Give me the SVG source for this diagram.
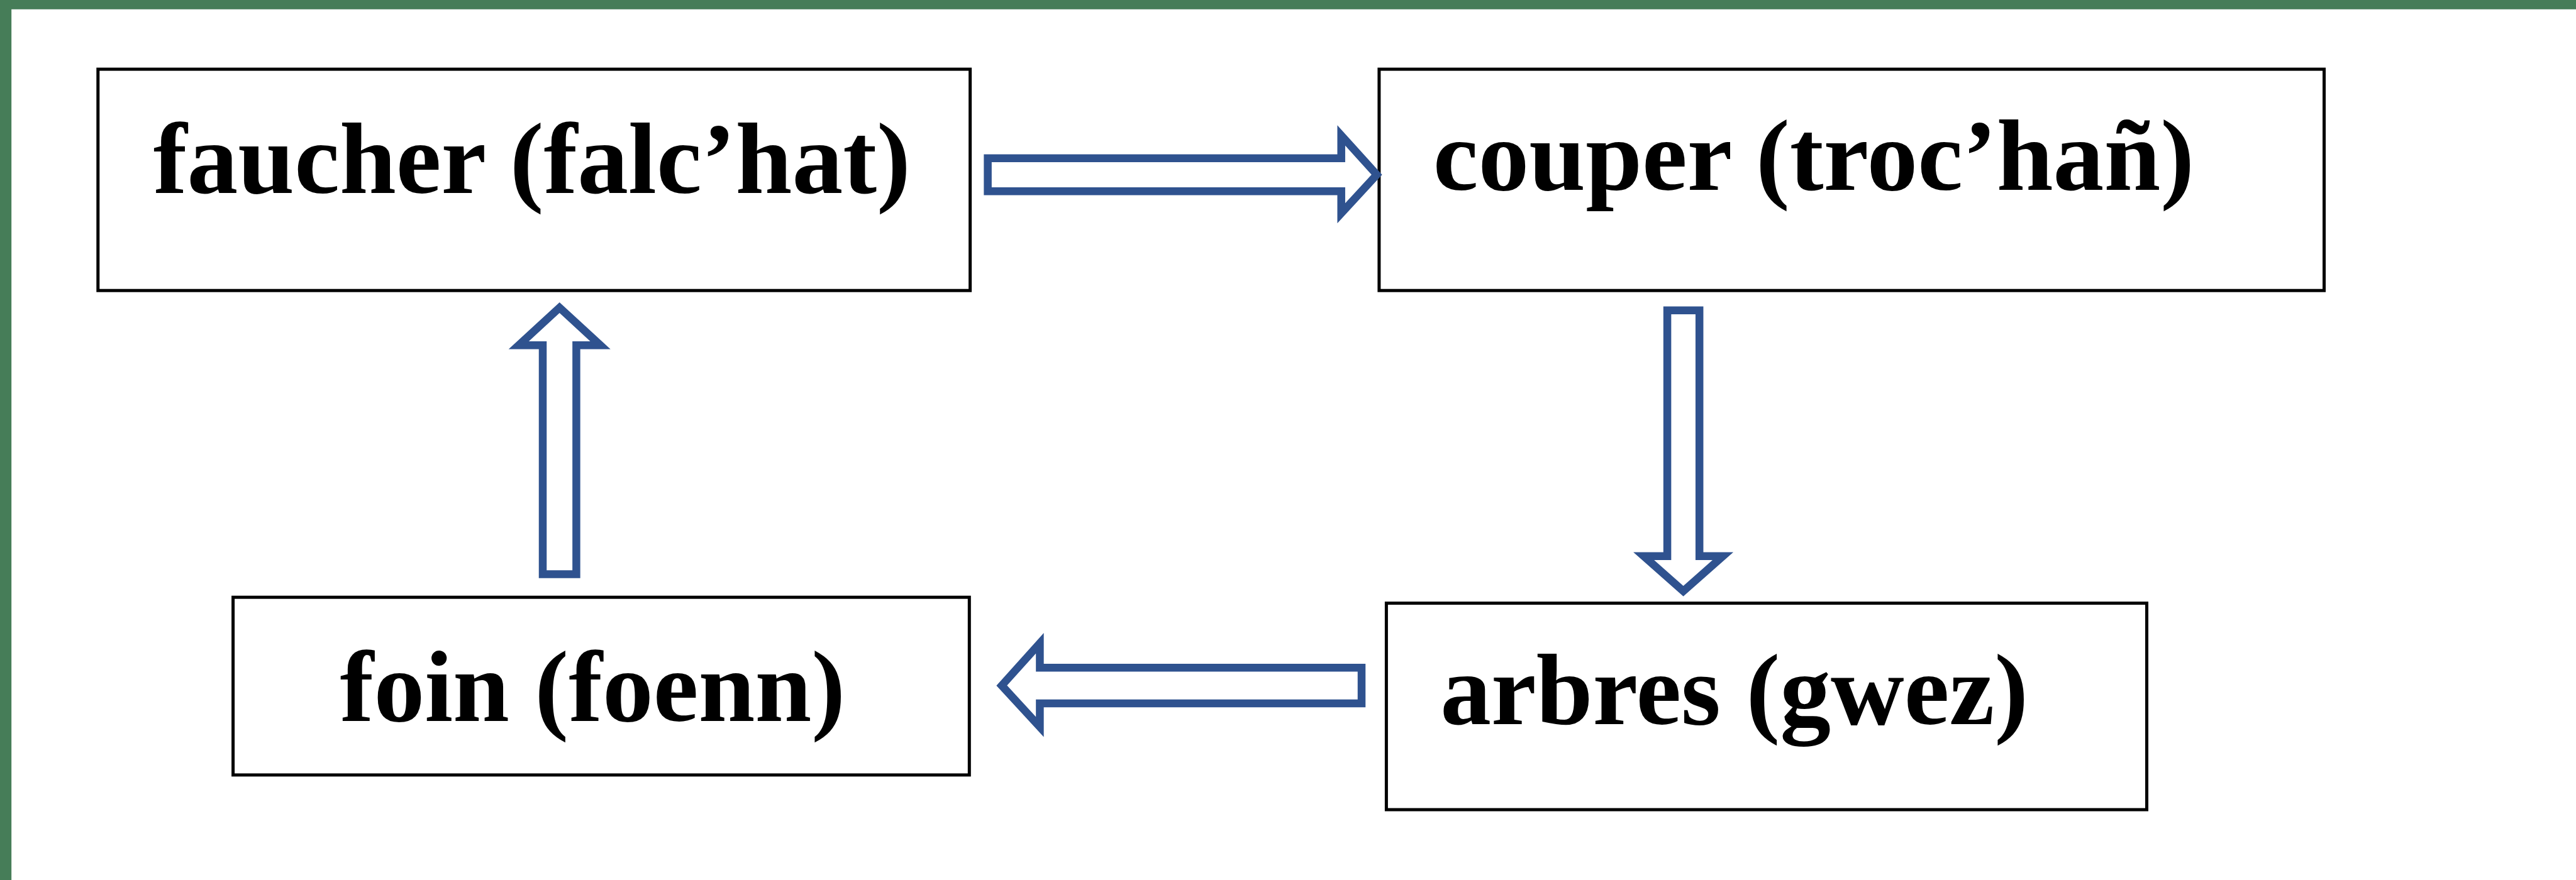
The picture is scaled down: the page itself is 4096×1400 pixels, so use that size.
<svg xmlns="http://www.w3.org/2000/svg" width="4096" height="1400" viewBox="0 0 4096 1400">
  <style>
    .box { fill: #ffffff; stroke: #000000; stroke-width: 5; }
    .lbl { font-family: "Liberation Serif", "Times New Roman", serif; font-weight: bold; font-size: 161.6px; fill: #000000; }
    .arrow { fill: #ffffff; stroke: #2F528F; stroke-width: 12.5; stroke-linejoin: miter; stroke-miterlimit: 10; }
  </style>
  <rect x="0" y="0" width="4096" height="1400" fill="#ffffff"/>
  <rect x="0" y="0" width="4096" height="14.8" fill="#467D58"/>
  <rect x="0" y="0" width="18.2" height="1400" fill="#467D58"/>

  <g id="node-faucher">
    <rect class="box" x="155.8" y="110.1" width="1386.8" height="352.1"/>
    <text class="lbl" x="243.7" y="307">faucher (falc’hat)</text>
  </g>
  <g id="node-couper">
    <rect class="box" x="2192.9" y="110.1" width="1502.6" height="352.1"/>
    <text class="lbl" x="2278.8" y="302.3">couper (troc’hañ)</text>
  </g>
  <g id="node-foin">
    <rect class="box" x="370.6" y="950.2" width="1170.7" height="282.7"/>
    <text class="lbl" x="540.6" y="1147.1">foin (foenn)</text>
  </g>
  <g id="node-arbres">
    <rect class="box" x="2204.4" y="959.6" width="1209.1" height="328.5"/>
    <text class="lbl" x="2290.2" y="1151.9">arbres (gwez)</text>
  </g>

  <g id="connectors">
    <path class="arrow" d="M1570.6,251.8 L2132.7,251.8 L2132.7,215.4 L2189.2,277.9 L2132.7,339.3 L2132.7,304.3 L1570.6,304.3 Z"/>
    <path class="arrow" d="M2651.1,493.8 L2702.2,493.8 L2702.2,884.7 L2739.6,884.7 L2676.6,940.5 L2613.6,884.7 L2651.1,884.7 Z"/>
    <path class="arrow" d="M2165,1062.3 L1653.4,1062.3 L1653.4,1023.3 L1592.8,1090.6 L1653.4,1156.5 L1653.4,1118.9 L2165,1118.9 Z"/>
    <path class="arrow" d="M863,913.5 L863,549.3 L824.7,549.3 L889.7,489.4 L954.7,549.3 L916.4,549.3 L916.4,913.5 Z"/>
  </g>
</svg>
